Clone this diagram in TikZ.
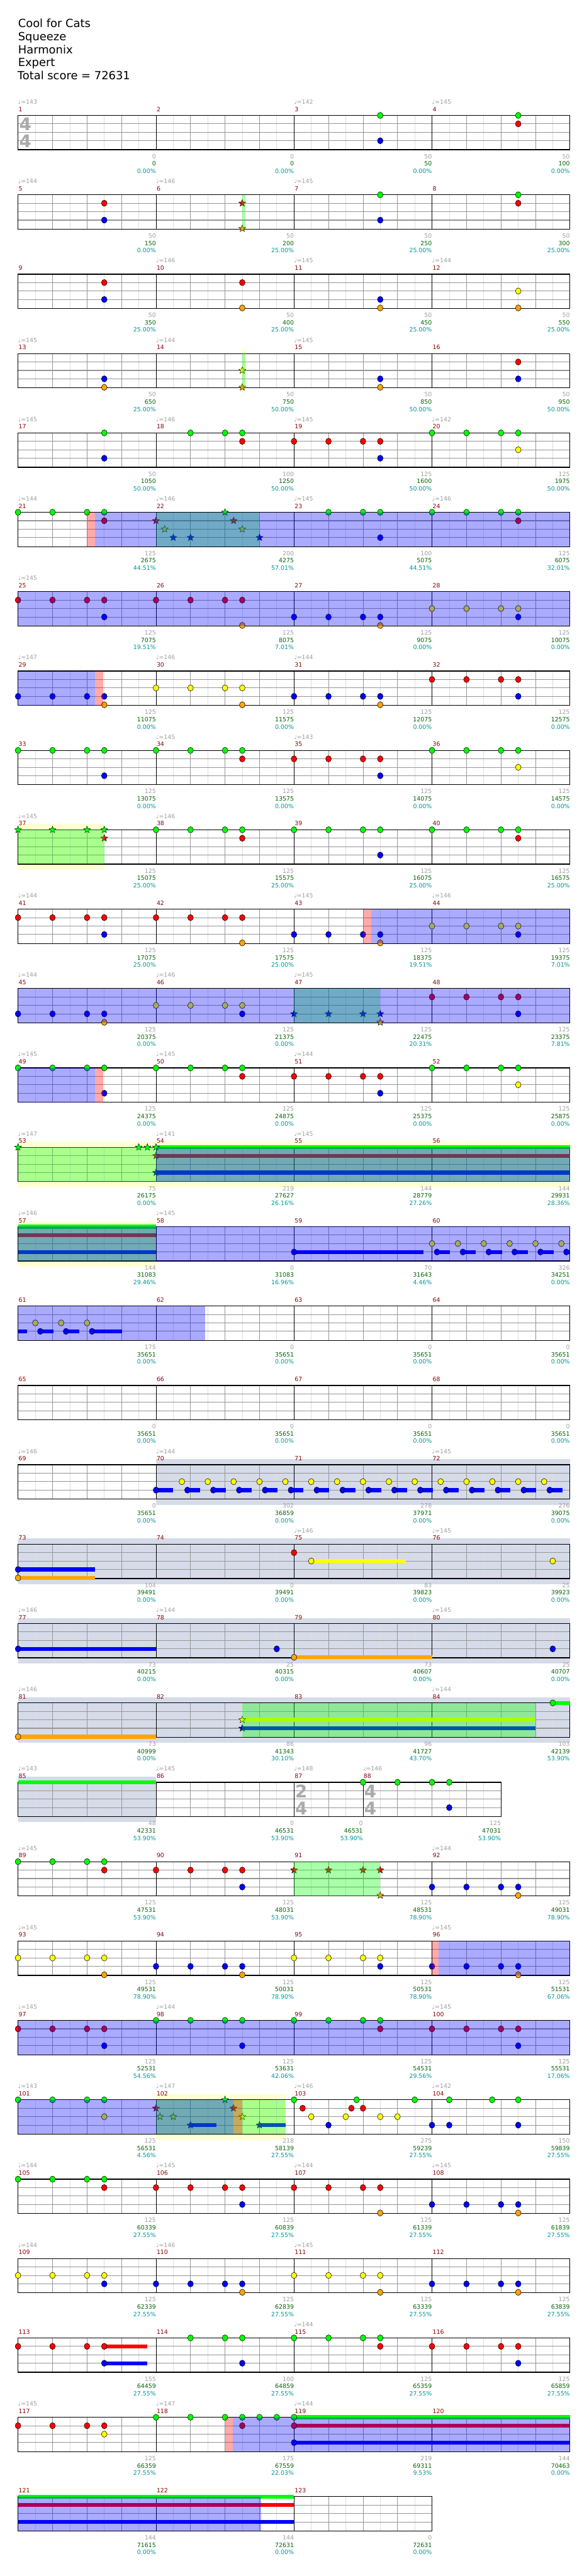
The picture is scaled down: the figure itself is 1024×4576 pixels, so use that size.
\documentclass[tikz,border=0pt]{standalone}
\usepackage{fontspec}
\setmainfont{DejaVu Sans}
\usetikzlibrary{shapes.geometric}
\pgfdeclarelayer{bg}\pgfdeclarelayer{fg}\pgfsetlayers{bg,main,fg}
\definecolor{c0}{RGB}{0,255,0}
\definecolor{c1}{RGB}{255,0,0}
\definecolor{c2}{RGB}{255,255,0}
\definecolor{c3}{RGB}{0,0,255}
\definecolor{c4}{RGB}{255,165,0}
\definecolor{mred}{RGB}{140,0,0}
\definecolor{lgrey}{RGB}{160,160,160}
\definecolor{dgreen}{RGB}{0,100,0}
\definecolor{tealc}{RGB}{0,150,150}
\definecolor{glA}{RGB}{222,222,222}
\definecolor{glB}{RGB}{150,150,150}
\definecolor{pyel}{RGB}{255,255,210}
\definecolor{gblue}{RGB}{213,219,232}
\definecolor{tsg}{RGB}{170,170,170}
\tikzset{
 lab/.style={font=\fontsize{10.5}{12}\selectfont,inner sep=0pt,text height=7.7pt,text depth=0pt},
 mnum/.style={lab,text=mred,anchor=west},
 tempo/.style={lab,text=lgrey,anchor=west},
 blab/.style={lab,anchor=east},
 ttl/.style={font=\fontsize{20}{24}\selectfont,anchor=base west,inner sep=0pt},
 tsgs/.style={font=\fontsize{31}{31}\selectfont\bfseries,text=tsg,inner sep=0pt,text height=22.5pt,text depth=0pt,anchor=center},
 starn/.style={star,star points=5,star point ratio=2.3,minimum size=13pt,inner sep=0pt,draw=black,line width=0.5pt}
}
\newcommand\ex[1]{32+30.625*(#1)}
\newcommand\Setrow[1]{\pgfmathsetmacro\Ty{205+141*(#1-1)}}
\newcommand\Grid[2]{%
 \pgfmathtruncatemacro\Em{#1-1}%
 \foreach \k in {1,...,\Em}{\pgfmathtruncatemacro\mdd{mod(\k,2)}%
   \ifnum\mdd=1 \draw[glA,line width=0.8pt] ({\ex{\k}},\Ty) -- ++(0,61);%
   \else \draw[glB,line width=0.8pt] ({\ex{\k}},\Ty) -- ++(0,61);\fi}%
 \foreach \l in {15,30,45}{\draw[glB,line width=1.2pt] (32,{\Ty+\l}) -- ({\ex{#1}},{\Ty+\l});}%
 \foreach \k in {#2}{\draw[black,line width=0.8pt] ({\ex{\k}},\Ty) -- ++(0,61);}%
 \draw[black,line width=1.4pt] (32,\Ty) rectangle ({\ex{#1}},{\Ty+61});}
\newcommand\Notes[1]{\foreach \e/\l in {#1}{\fill[fill=c\l,draw=black,line width=0.6pt] ({\ex{\e}},{\Ty+15*\l}) ellipse [x radius=5pt,y radius=5.5pt];}}
\newcommand\Stars[1]{\foreach \e/\l in {#1}{\node[starn,fill=c\l] at ({\ex{\e}},{\Ty+15*\l}) {};}}
\newcommand\Sus[1]{\foreach \a/\b/\l in {#1}{\fill[fill=c\l] ({\ex{\a}},{\Ty+15*\l-3.5}) rectangle ({\ex{\b}},{\Ty+15*\l+3.5});}}
\newcommand\Ovl[3]{\begin{pgfonlayer}{fg}\fill[fill=#1,fill opacity=0.333] ({\ex{#2}},\Ty) rectangle ({\ex{#3}},{\Ty+61});\end{pgfonlayer}}
\newcommand\Bgb[3]{\begin{pgfonlayer}{bg}\fill[fill=#1] ({\ex{#2}},{\Ty-10}) rectangle ({\ex{#3}},{\Ty+71});\end{pgfonlayer}}
\newcommand\Mlab[3]{\node[mnum] at ({\ex{#1}+1},{\Ty-11}) {#2};%
 \if\relax\detokenize{#3}\relax\else\node[tempo] at ({\ex{#1}},{\Ty-24}) {♩=#3};\fi}
\newcommand\Blab[4]{\node[blab,text=lgrey] at ({\ex{#1}},{\Ty+73}) {#2};%
 \node[blab,text=dgreen] at ({\ex{#1}},{\Ty+86}) {#3};%
 \node[blab,text=tealc] at ({\ex{#1}},{\Ty+99}) {#4\%};}
\newcommand\Brow[4]{\Blab{8}#1\Blab{16}#2\Blab{24}#3\Blab{32}#4}
\newcommand\Tsig[3]{\node[tsgs] at ({\ex{#1}+13},{\Ty+16}) {#2};\node[tsgs] at ({\ex{#1}+13},{\Ty+46}) {#3};}
\newcommand\Stdrow[6]{\Setrow{#1}\Grid{32}{8,16,24}%
 \pgfmathtruncatemacro\mA{#2}\pgfmathtruncatemacro\mB{#2+1}\pgfmathtruncatemacro\mC{#2+2}\pgfmathtruncatemacro\mD{#2+3}%
 \Mlab{0}{\mA}{#3}\Mlab{8}{\mB}{#4}\Mlab{16}{\mC}{#5}\Mlab{24}{\mD}{#6}}
\begin{document}
\begin{tikzpicture}[x=1pt,y=-1pt]
\useasboundingbox (0,0) rectangle (1024,4576);
\begin{pgfonlayer}{bg}\fill[white] (0,0) rectangle (1024,4576);\end{pgfonlayer}
\node[ttl] (t1) at (32,49) {Cool for Cats};
\node[ttl] (t2) at (32,72) {Squeeze};
\node[ttl] (t3) at (32,95) {Harmonix};
\node[ttl] (t4) at (32,118) {Expert};
\node[ttl] (t5) at (31,141) {Total score = 72631};
% Row 1
\Stdrow{1}{1}{143}{}{142}{145}
\Tsig{0}{4}{4}
\Notes{21/0,21/3,29/0,29/1}
\Brow{{0}{0}{0.00}}{{0}{0}{0.00}}{{50}{50}{0.00}}{{50}{100}{0.00}}
% Row 2
\Stdrow{2}{5}{144}{146}{145}{}
\Notes{5/1,5/3,21/0,21/3,29/0,29/1}
\Stars{13/1,13/4}
\Ovl{c0}{13}{13.17}
\Brow{{50}{150}{0.00}}{{50}{200}{25.00}}{{50}{250}{25.00}}{{50}{300}{25.00}}
% Row 3
\Stdrow{3}{9}{}{146}{145}{144}
\Notes{5/1,5/3,13/1,13/4,21/3,21/4,29/2,29/4}
\Brow{{50}{350}{25.00}}{{50}{400}{25.00}}{{50}{450}{25.00}}{{50}{550}{25.00}}
% Row 4
\Stdrow{4}{13}{145}{144}{145}{}
\Bgb{pyel}{13}{13.17}
\Notes{5/3,5/4,21/3,21/4,29/1,29/3}
\Stars{13/2,13/4}
\Ovl{c0}{13}{13.17}
\Brow{{50}{650}{25.00}}{{50}{750}{50.00}}{{50}{850}{50.00}}{{50}{950}{50.00}}
% Row 5
\Stdrow{5}{17}{145}{146}{145}{142}
\Notes{5/0,5/3,10/0,12/0,13/0,13/1,16/1,18/1,20/1,21/1,21/3,24/0,26/0,28/0,29/0,29/2}
\Brow{{50}{1050}{50.00}}{{100}{1250}{50.00}}{{125}{1600}{50.00}}{{125}{1975}{50.00}}
% Row 6
\Stdrow{6}{21}{144}{146}{145}{146}
\Notes{0/0,2/0,4/0,5/0,5/1,18/0,20/0,21/0,21/3,24/0,26/0,28/0,29/0,29/1}
\Stars{8/1,8.5/2,9/3,10/3,12/0,12.5/1,13/2,14/3}
\Ovl{c0}{8}{14}\Ovl{c3}{4.47}{32}\Ovl{c1}{3.98}{4.47}
\Brow{{125}{2675}{44.51}}{{200}{4275}{57.01}}{{100}{5075}{44.51}}{{125}{6075}{32.01}}
% Row 7
\Stdrow{7}{25}{145}{}{}{}
\Notes{0/1,2/1,4/1,5/1,5/3,8/1,10/1,12/1,13/1,13/4,16/3,18/3,20/3,21/3,21/4,24/2,26/2,28/2,29/2,29/3}
\Ovl{c3}{0}{32}
\Brow{{125}{7075}{19.51}}{{125}{8075}{7.01}}{{125}{9075}{0.00}}{{125}{10075}{0.00}}
% Row 8
\Stdrow{8}{29}{147}{146}{144}{}
\Notes{0/3,2/3,4/3,5/3,5/4,8/2,10/2,12/2,13/2,13/4,16/3,18/3,20/3,21/3,21/4,24/1,26/1,28/1,29/1,29/3}
\Ovl{c3}{0}{4.47}\Ovl{c1}{4.47}{4.94}
\Brow{{125}{11075}{0.00}}{{125}{11575}{0.00}}{{125}{12075}{0.00}}{{125}{12575}{0.00}}
% Row 9
\Stdrow{9}{33}{}{145}{143}{}
\Notes{0/0,2/0,4/0,5/0,5/3,8/0,10/0,12/0,13/0,13/1,16/1,18/1,20/1,21/1,21/3,24/0,26/0,28/0,29/0,29/2}
\Brow{{125}{13075}{0.00}}{{125}{13575}{0.00}}{{125}{14075}{0.00}}{{125}{14575}{0.00}}
% Row 10
\Stdrow{10}{37}{145}{146}{}{}
\Bgb{pyel}{0}{5}
\Notes{8/0,10/0,12/0,13/0,13/1,16/0,18/0,20/0,21/0,21/3,24/0,26/0,28/0,29/0,29/1}
\Stars{0/0,2/0,4/0,5/0,5/1}
\Ovl{c0}{0}{5}
\Brow{{125}{15075}{25.00}}{{125}{15575}{25.00}}{{125}{16075}{25.00}}{{125}{16575}{25.00}}
% Row 11
\Stdrow{11}{41}{144}{}{145}{146}
\Notes{0/1,2/1,4/1,5/1,5/3,8/1,10/1,12/1,13/1,13/4,16/3,18/3,20/3,21/3,21/4,24/2,26/2,28/2,29/2,29/3}
\Ovl{c3}{20.47}{32}\Ovl{c1}{20}{20.47}
\Brow{{125}{17075}{25.00}}{{125}{17575}{25.00}}{{125}{18375}{19.51}}{{125}{19375}{7.01}}
% Row 12
\Stdrow{12}{45}{144}{146}{145}{}
\Notes{0/3,2/3,4/3,5/3,5/4,8/2,10/2,12/2,13/2,13/3,24/1,26/1,28/1,29/1,29/3}
\Stars{16/3,18/3,20/3,21/3,21/4}
\Ovl{c0}{16}{21}\Ovl{c3}{0}{32}
\Brow{{125}{20375}{0.00}}{{125}{21375}{0.00}}{{125}{22475}{20.31}}{{125}{23375}{7.81}}
% Row 13
\Stdrow{13}{49}{145}{145}{144}{}
\Notes{0/0,2/0,4/0,5/0,5/3,8/0,10/0,12/0,13/0,13/1,16/1,18/1,20/1,21/1,21/3,24/0,26/0,28/0,29/0,29/2}
\Ovl{c3}{0}{4.47}\Ovl{c1}{4.47}{4.94}
\Brow{{125}{24375}{0.00}}{{125}{24875}{0.00}}{{125}{25375}{0.00}}{{125}{25875}{0.00}}
% Row 14
\Stdrow{14}{53}{147}{141}{145}{}
\Bgb{pyel}{0}{32}
\Sus{8/32/0,8/32/1,8/32/3}
\Stars{0/0,7/0,7.5/0,8/0,8/1,8/3}
\Ovl{c0}{0}{32}\Ovl{c3}{8}{32}
\Brow{{75}{26175}{0.00}}{{219}{27627}{26.16}}{{144}{28779}{27.26}}{{144}{29931}{28.36}}
% Row 15
\Stdrow{15}{57}{146}{145}{}{}
\Bgb{pyel}{0}{8}
\Sus{0/8/0,0/8/1,0/8/3,16/23.49/3}
\Notes{16/3}
\foreach \k in {0,...,5}{\pgfmathsetmacro\ey{24+1.5*\k}\pgfmathsetmacro\eb{24.29+1.5*\k}\pgfmathsetmacro\ee{min(\eb+0.76,32)}\Sus{\eb/\ee/3}\Notes{\ey/2,\eb/3}}
\Ovl{c0}{0}{8}\Ovl{c3}{0}{32}
\Brow{{144}{31083}{29.46}}{{0}{31083}{16.96}}{{70}{31643}{4.46}}{{326}{34251}{0.00}}
% Row 16
\Stdrow{16}{61}{}{}{}{}
\Sus{0/0.54/3,1.29/2.05/3,2.78/3.55/3,4.29/6.03/3}
\Notes{1/2,2.5/2,4/2,1.29/3,2.78/3,4.29/3}
\Ovl{c3}{0}{10.86}
\Brow{{175}{35651}{0.00}}{{0}{35651}{0.00}}{{0}{35651}{0.00}}{{0}{35651}{0.00}}
% Row 17
\Stdrow{17}{65}{}{}{}{}
\Brow{{0}{35651}{0.00}}{{0}{35651}{0.00}}{{0}{35651}{0.00}}{{0}{35651}{0.00}}
% Row 18
\Stdrow{18}{69}{146}{144}{}{145}
\Bgb{gblue}{8}{32}
\Sus{8/9/3}\Notes{8/3}
\foreach \k in {0,...,14}{\pgfmathsetmacro\ey{9.5+1.5*\k}\pgfmathsetmacro\eb{9.82+1.5*\k}\pgfmathsetmacro\ee{\eb+0.73}\Sus{\eb/\ee/3}\Notes{\ey/2,\eb/3}}
\Brow{{0}{35651}{0.00}}{{302}{36859}{0.00}}{{278}{37971}{0.00}}{{276}{39075}{0.00}}
% Row 19
\Stdrow{19}{73}{}{}{146}{145}
\Bgb{gblue}{0}{32}
\Sus{0/4.46/3,0/4.46/4,17/22.49/2}
\Notes{0/3,0/4,16/1,17/2,31/2}
\Brow{{104}{39491}{0.00}}{{0}{39491}{0.00}}{{83}{39823}{0.00}}{{25}{39923}{0.00}}
% Row 20
\Stdrow{20}{77}{146}{144}{}{145}
\Bgb{gblue}{0}{32}
\Sus{0/8/3,16/24/4}
\Notes{0/3,15/3,16/4,31/3}
\Brow{{73}{40215}{0.00}}{{25}{40315}{0.00}}{{73}{40607}{0.00}}{{25}{40707}{0.00}}
% Row 21
\Stdrow{21}{81}{146}{}{}{144}
\Bgb{gblue}{0}{32}
\Sus{0/8/4,13/30/2,13/30/3,31/32/0}
\Notes{0/4,31/0}
\Stars{13/2,13/3}
\Ovl{c0}{13}{30}
\Brow{{73}{40999}{0.00}}{{86}{41343}{30.10}}{{96}{41727}{43.70}}{{103}{42139}{53.90}}
% Row 22
\Setrow{22}\Grid{28}{8,16,20}
\Mlab{0}{85}{143}\Mlab{8}{86}{145}\Mlab{16}{87}{148}\Mlab{20}{88}{146}
\Bgb{gblue}{0}{8}
\Tsig{16}{2}{4}\Tsig{20}{4}{4}
\Sus{0/8/0}
\Notes{20/0,22/0,24/0,25/0,25/3}
\Blab{8}{48}{42331}{53.90}\Blab{16}{0}{46531}{53.90}\Blab{20}{0}{46531}{53.90}\Blab{28}{125}{47031}{53.90}
% Row 23
\Stdrow{23}{89}{145}{}{}{144}
\Notes{0/0,2/0,4/0,5/0,5/1,8/1,10/1,12/1,13/1,13/3,24/3,26/3,28/3,29/3,29/4}
\Stars{16/1,18/1,20/1,21/1,21/4}
\Ovl{c0}{16}{21}
\Brow{{125}{47531}{53.90}}{{125}{48031}{53.90}}{{125}{48531}{78.90}}{{125}{49031}{78.90}}
% Row 24
\Stdrow{24}{93}{145}{}{}{145}
\Notes{0/2,2/2,4/2,5/2,5/4,8/3,10/3,12/3,13/3,13/4,16/2,18/2,20/2,21/2,21/3,24/3,26/3,28/3,29/3,29/4}
\Ovl{c3}{24.37}{32}\Ovl{c1}{24}{24.37}
\Brow{{125}{49531}{78.90}}{{125}{50031}{78.90}}{{125}{50531}{78.90}}{{125}{51531}{67.06}}
% Row 25
\Stdrow{25}{97}{145}{144}{}{145}
\Notes{0/1,2/1,4/1,5/1,5/3,8/0,10/0,12/0,13/0,13/3,16/0,18/0,20/0,21/0,21/1,24/1,26/1,28/1,29/1,29/3}
\Ovl{c3}{0}{32}
\Brow{{125}{52531}{54.56}}{{125}{53631}{42.06}}{{125}{54531}{29.56}}{{125}{55531}{17.06}}
% Row 26
\Stdrow{26}{101}{143}{147}{146}{142}
\Bgb{pyel}{8}{15.5}
\Sus{10/11.49/3,14/15.5/3}
\Notes{0/0,2/0,4/0,5/0,5/2,16/0,16.5/1,17/2,18/3,19/2,19.33/1,19.63/0,20/1,21/2,22/2,23/0,24/3,25/0,25/3,27.49/0,29/0,29/3}
\Stars{8/1,8.23/2,9/2,10/3,12/0,12.49/1,13/2,14/3}
\Ovl{c0}{8}{15.5}\Ovl{c3}{0}{12.5}\Ovl{c1}{12.5}{13}
\Brow{{125}{56531}{4.56}}{{218}{58139}{27.55}}{{275}{59239}{27.55}}{{150}{59839}{27.55}}
% Row 27
\Stdrow{27}{105}{144}{145}{144}{145}
\Notes{0/0,2/0,4/0,5/0,5/1,8/1,10/1,12/1,13/1,13/3,16/1,18/1,20/1,21/1,21/4,24/3,26/3,28/3,29/3,29/4}
\Brow{{125}{60339}{27.55}}{{125}{60839}{27.55}}{{125}{61339}{27.55}}{{125}{61839}{27.55}}
% Row 28
\Stdrow{28}{109}{144}{146}{145}{}
\Notes{0/2,2/2,4/2,5/2,5/3,8/3,10/3,12/3,13/3,13/4,16/2,18/2,20/2,21/2,21/4,24/3,26/3,28/3,29/3,29/4}
\Brow{{125}{62339}{27.55}}{{125}{62839}{27.55}}{{125}{63339}{27.55}}{{125}{63839}{27.55}}
% Row 29
\Stdrow{29}{113}{}{}{144}{}
\Sus{5/7.49/1,5/7.49/3}
\Notes{0/1,2/1,4/1,5/1,5/3,10/0,12/0,13/0,13/3,16/0,18/0,20/0,21/0,21/1,24/1,26/1,28/1,29/1,29/3}
\Brow{{155}{64459}{27.55}}{{100}{64859}{27.55}}{{125}{65359}{27.55}}{{125}{65859}{27.55}}
% Row 30
\Stdrow{30}{117}{145}{147}{144}{}
\Sus{16/32/0,16/32/1,16/32/3}
\Notes{0/1,2/1,4/1,5/1,5/2,8/0,10/0,12/0,13/0,13/1,14/0,15/0,16/0,16/1,16/3}
\Ovl{c3}{12.45}{32}\Ovl{c1}{12}{12.45}
\Brow{{125}{66359}{27.55}}{{175}{67559}{22.03}}{{219}{69311}{9.53}}{{144}{70463}{0.00}}
% Row 31
\Setrow{31}\Grid{24}{8,16}
\Mlab{0}{121}{}\Mlab{8}{122}{}\Mlab{16}{123}{}
\Sus{0/16/0,0/16/1,0/16/3}
\Ovl{c3}{0}{14.08}
\Blab{8}{144}{71615}{0.00}\Blab{16}{144}{72631}{0.00}\Blab{24}{0}{72631}{0.00}
\end{tikzpicture}
\end{document}
